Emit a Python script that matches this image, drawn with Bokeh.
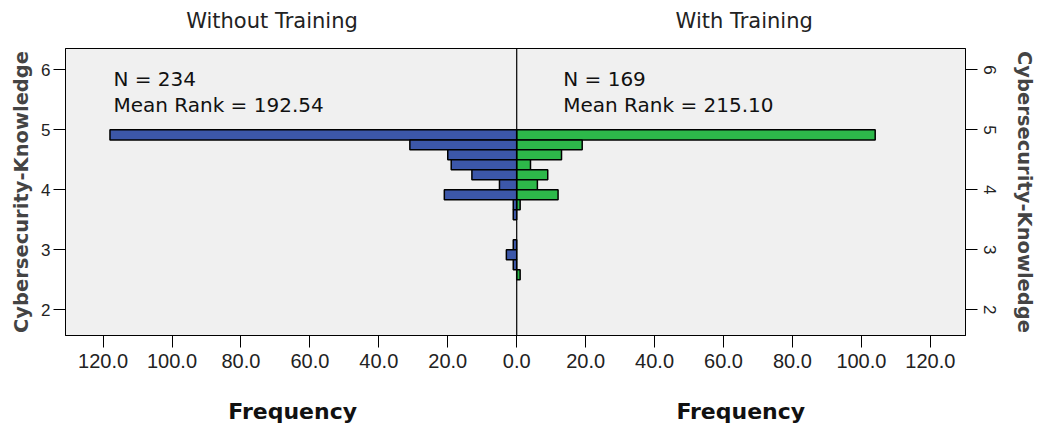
import numpy as np
from bokeh.plotting import figure
from bokeh.models import (Range1d, FixedTicker, CustomJSTickFormatter, LinearAxis,
                          Label, Span, ColumnDataSource)
from bokeh.embed import file_html
from bokeh.resources import INLINE

# ---- data ----
# bins of Cybersecurity-Knowledge (lower edge, upper edge), width 1/6
bin_lower = [4.833, 4.667, 4.500, 4.333, 4.167, 4.000, 3.833, 3.667, 3.500,
             3.333, 3.167, 3.000, 2.833, 2.667, 2.500]
bin_upper = [5.000, 4.833, 4.667, 4.500, 4.333, 4.167, 4.000, 3.833, 3.667,
             3.500, 3.333, 3.167, 3.000, 2.833, 2.667]
without_training = [118, 31, 20, 19, 13, 5, 21, 1, 1, 0, 0, 1, 3, 1, 0]
with_training = [104, 19, 13, 4, 9, 6, 12, 1, 0, 0, 0, 0, 0, 0, 1]
group_titles = ["Without Training", "With Training"]
group_n = [234, 169]
group_mean_rank = [192.54, 215.10]
x_ticks = [-120, -100, -80, -60, -40, -20, 0, 20, 40, 60, 80, 100, 120]
y_ticks = [2, 3, 4, 5, 6]

BLUE = "#3C57A9"
GREEN = "#2DB84A"
BG = "#F0F0F0"

p = figure(width=1040, height=434, output_backend="svg", toolbar_location=None,
           x_range=Range1d(-130.9, 130.2), y_range=Range1d(1.571, 6.357),
           background_fill_color=BG, border_fill_color="white",
           outline_line_color="black", outline_line_width=1,
           min_border_left=65, min_border_right=75, min_border_top=48,
           min_border_bottom=99)
p.grid.visible = False

def nonzero(counts):
    return [i for i, c in enumerate(counts) if c > 0]

ib = nonzero(without_training)
src_b = ColumnDataSource(dict(left=[-without_training[i] for i in ib],
                              right=[0] * len(ib),
                              top=[bin_upper[i] for i in ib],
                              bottom=[bin_lower[i] for i in ib]))
p.quad(left="left", right="right", top="top", bottom="bottom", source=src_b,
       fill_color=BLUE, line_color="black", line_width=1.5)

ig = nonzero(with_training)
src_g = ColumnDataSource(dict(left=[0] * len(ig),
                              right=[with_training[i] for i in ig],
                              top=[bin_upper[i] for i in ig],
                              bottom=[bin_lower[i] for i in ig]))
p.quad(left="left", right="right", top="top", bottom="bottom", source=src_g,
       fill_color=GREEN, line_color="black", line_width=1.5)

p.add_layout(Span(location=0, dimension="height", line_color="black", line_width=1.2))

def plain(ax):
    ax.major_tick_in = 0
    ax.minor_tick_out = 0
    ax.minor_tick_in = 0

# x axis
xa = p.xaxis[0]
xa.ticker = FixedTicker(ticks=x_ticks)
xa.formatter = CustomJSTickFormatter(code="return Math.abs(tick).toFixed(1);")
xa.major_label_text_font = "Liberation Sans"
xa.major_label_text_font_size = "20px"
xa.major_label_text_color = "#222222"
xa.major_tick_out = 12
xa.major_label_standoff = 6
xa.axis_line_color = "black"
plain(xa)

# "Frequency" labels, one under each half (an axis with two labelled ticks)
freq_pos = [-65, 65]
fa = LinearAxis(ticker=FixedTicker(ticks=freq_pos),
                major_label_overrides={freq_pos[0]: "Frequency", freq_pos[1]: "Frequency"})
fa.axis_line_color = None
fa.major_tick_out = 0
fa.major_label_standoff = 28
fa.major_label_text_font = "DejaVu Sans"
fa.major_label_text_font_style = "bold"
fa.major_label_text_font_size = "22px"
fa.major_label_text_color = "#111111"
plain(fa)
p.add_layout(fa, "below")

# panel titles (an axis above with two labelled ticks)
title_pos = [-71, 66]
ta = LinearAxis(ticker=FixedTicker(ticks=title_pos),
                major_label_overrides={title_pos[0]: group_titles[0],
                                       title_pos[1]: group_titles[1]})
ta.axis_line_color = None
ta.major_tick_out = 0
ta.major_label_standoff = 16
ta.major_label_text_font = "DejaVu Sans"
ta.major_label_text_font_size = "21px"
ta.major_label_text_color = "#222222"
plain(ta)
p.add_layout(ta, "above")

# left y axis
ya = p.yaxis[0]
ya.ticker = FixedTicker(ticks=y_ticks)
ya.axis_label = "Cybersecurity-Knowledge"
ya.axis_label_text_font = "DejaVu Sans"
ya.axis_label_text_font_style = "bold"
ya.axis_label_text_font_size = "19.5px"
ya.axis_label_standoff = 5
ya.major_label_text_font = "Liberation Sans"
ya.major_label_text_font_size = "17px"
ya.major_label_text_color = "#222222"
ya.major_tick_out = 12
ya.major_label_standoff = 3
plain(ya)

# right y axis
ra = LinearAxis(ticker=FixedTicker(ticks=y_ticks), axis_label="Cybersecurity-Knowledge")
ra.axis_label_text_font = "DejaVu Sans"
ra.axis_label_text_font_style = "bold"
ra.axis_label_text_font_size = "19.5px"
ra.axis_label_standoff = 14
ra.major_label_text_font = "Liberation Sans"
ra.major_label_text_font_size = "17px"
ra.major_label_text_color = "#222222"
ra.major_label_orientation = "parallel"
ra.major_tick_out = 12
ra.major_label_standoff = 6
plain(ra)
p.add_layout(ra, "right")

stat_x = [-117, 13.5]
for sx, n, mr in zip(stat_x, group_n, group_mean_rank):
    p.add_layout(Label(x=sx, y=5.85, text=f"N = {n}", text_align="left",
                       text_baseline="alphabetic", text_font="DejaVu Sans",
                       text_font_size="20px", text_color="#111111"))
    p.add_layout(Label(x=sx, y=5.42, text=f"Mean Rank = {mr:.2f}", text_align="left",
                       text_baseline="alphabetic", text_font="DejaVu Sans",
                       text_font_size="20px", text_color="#111111"))

open("out.html", "w").write(file_html(p, INLINE))
